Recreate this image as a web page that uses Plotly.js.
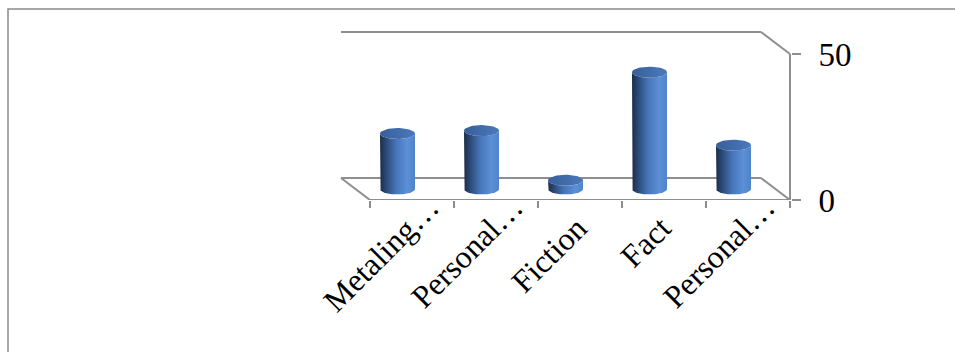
<!DOCTYPE html>
<html>
<head>
<meta charset="utf-8">
<script src="https://cdn.plot.ly/plotly-3.0.1.min.js"></script>
<style>
  html, body { margin: 0; padding: 0; background: #ffffff; }
  #chart { width: 955px; height: 352px; }
</style>
</head>
<body>
<div id="chart"></div>
<script>
// ---- data ----
const categories = ["Metaling…", "Personal…", "Fiction", "Fact", "Personal…"];
const values = [19, 20, 3, 40, 15];
const yTickVals = [0, 50];
const yTickText = ["0", "50"];

// ---- geometry of the pseudo-3D frame (pixels) ----
const plotL = 330, plotR = 791, plotT = 20, plotB = 200;
const pxPerCat = 84, pxPerUnit = 2.92;
const firstCenterPx = 412;
const xMin = -(firstCenterPx - plotL) / pxPerCat;
const xMax = (plotR - firstCenterPx) / pxPerCat;
const yMax = (plotB - plotT) / pxPerUnit;

// oblique offset of the back wall, expressed in data units
const depthX = -29 / pxPerCat;
const depthY = 22 / pxPerUnit;
const n = categories.length;
const edgeL = -0.5, edgeR = n - 0.5;
const wallTop = yTickVals[yTickVals.length - 1];

// cylinder radii in data units
const rx = 17.5 / pxPerCat;
const ry = 5.5 / pxPerUnit;
const STEPS = 48;

const frameColor = "#8e8e8e";
const serif = "Liberation Serif, Times New Roman, serif";
const labelFont = { family: serif, size: 32, color: "#000000" };

const bodyScale = [
  [0.00, "#1b2d49"], [0.18, "#2b4a78"], [0.45, "#4774b7"],
  [0.78, "#5b90d7"], [1.00, "#4f83c9"]
];
const capScale = [[0, "#375f9b"], [1, "#4a79ba"]];

function arc(cx, cy, t0, t1, xs, ys) {
  for (let k = 0; k <= STEPS; k++) {
    const t = t0 + (t1 - t0) * k / STEPS;
    xs.push(cx + rx * Math.cos(t));
    ys.push(cy + ry * Math.sin(t));
  }
}

const traces = [];
values.forEach((v, i) => {
  const cx = i + depthX / 2;
  const base = depthY / 2;
  const top = base + v;

  // cylinder body: left side, bottom half ellipse, right side, lower half of the cap
  const bx = [cx - rx], by = [top];
  arc(cx, base, Math.PI, 2 * Math.PI, bx, by);
  arc(cx, top, 2 * Math.PI, Math.PI, bx, by);
  traces.push({
    type: "scatter", mode: "lines", x: bx, y: by, fill: "toself",
    line: { width: 0, color: "rgba(0,0,0,0)" },
    fillgradient: { type: "horizontal", colorscale: bodyScale },
    hoverinfo: "skip", showlegend: false
  });

  // elliptical cap
  const tx = [], ty = [];
  arc(cx, top, 0, 2 * Math.PI, tx, ty);
  traces.push({
    type: "scatter", mode: "lines", x: tx, y: ty, fill: "toself",
    line: { width: 0, color: "rgba(0,0,0,0)" },
    fillgradient: { type: "horizontal", colorscale: capScale },
    hoverinfo: "skip", showlegend: false
  });
});
// an empty trace so the second category axis is laid out
traces.push({ type: "scatter", mode: "none", x: [], y: [], xaxis: "x2", yaxis: "y", hoverinfo: "skip", showlegend: false });

function seg(x0, y0, x1, y1) {
  return {
    type: "line", xref: "x", yref: "y", x0, y0, x1, y1, layer: "below",
    line: { color: frameColor, width: 2 }
  };
}

const shapes = [
  // back wall top edge and its slant to the value axis
  seg(edgeL + depthX, wallTop + depthY, edgeR + depthX, wallTop + depthY),
  seg(edgeR + depthX, wallTop + depthY, edgeR, wallTop),
  // floor
  seg(edgeL + depthX, depthY, edgeR + depthX, depthY),
  seg(edgeL + depthX, depthY, edgeL, 0),
  seg(edgeR + depthX, depthY, edgeR, 0),
  seg(edgeL, 0, edgeR, 0),
  // value axis line
  seg(edgeR, 0, edgeR, wallTop),
  // chart area border
  {
    type: "rect", xref: "paper", yref: "paper", layer: "below",
    x0: (8 - plotL) / (plotR - plotL), x1: (962 - plotL) / (plotR - plotL),
    y0: (plotB - 362) / (plotB - plotT), y1: (plotB - 9) / (plotB - plotT),
    line: { color: "#8a8a8a", width: 1.5 }, fillcolor: "rgba(0,0,0,0)"
  }
];

const boundaries = [];
for (let k = 0; k <= n; k++) boundaries.push(edgeL + k);

// truncated labels (ending in an ellipsis) run further out along the diagonal
const isCut = categories.map(c => c.endsWith("…"));
const fullIdx = categories.map((_, i) => i).filter(i => !isCut[i]);
const cutIdx = categories.map((_, i) => i).filter(i => isCut[i]);
const cutRaisePx = 19;

const layout = {
  width: 955, height: 352,
  margin: { l: plotL, r: 955 - plotR, t: plotT, b: 352 - plotB, pad: 0 },
  paper_bgcolor: "#ffffff", plot_bgcolor: "rgba(0,0,0,0)",
  showlegend: false,
  xaxis: {
    type: "linear", range: [xMin, xMax], fixedrange: true, automargin: false,
    showgrid: false, zeroline: false, showline: false,
    tickmode: "array", tickvals: fullIdx.map(i => i - 0.03), ticktext: fullIdx.map(i => categories[i]),
    ticks: "", tickangle: -45, ticklabelstandoff: 2,
    tickfont: labelFont,
    minor: { tickmode: "array", tickvals: boundaries, ticks: "outside", ticklen: 7, tickwidth: 2, tickcolor: frameColor, showgrid: false }
  },
  xaxis2: {
    type: "linear", range: [xMin, xMax], fixedrange: true, automargin: false,
    overlaying: "x", anchor: "free", position: cutRaisePx / (plotB - plotT), side: "bottom",
    showgrid: false, zeroline: false, showline: false,
    tickmode: "array", tickvals: cutIdx.map(i => i + 0.21), ticktext: cutIdx.map(i => categories[i]),
    ticks: "", tickangle: -45, ticklabelstandoff: 0,
    tickfont: labelFont
  },
  yaxis: {
    range: [0, yMax], side: "right", fixedrange: true, automargin: false,
    showgrid: false, zeroline: false, showline: false,
    tickmode: "array", tickvals: yTickVals, ticktext: yTickText,
    ticks: "outside", ticklen: 9, tickwidth: 2, tickcolor: frameColor,
    ticklabelstandoff: 11,
    tickfont: { family: serif, size: 33, color: "#000000" }
  },
  shapes: shapes
};

Plotly.newPlot("chart", traces, layout, { staticPlot: true, displayModeBar: false });
</script>
</body>
</html>
